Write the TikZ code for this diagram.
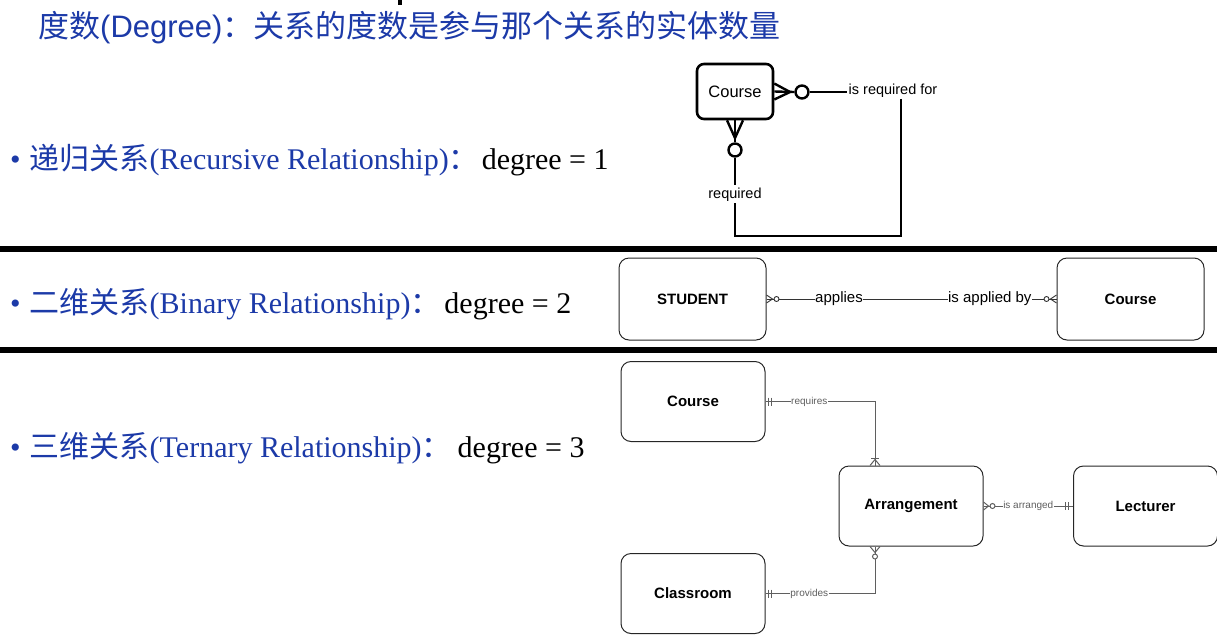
\documentclass[tikz,border=0pt]{standalone}
\usepackage{fontspec}
\setmainfont{Liberation Serif}
\newfontfamily\cjkfont{Noto Sans CJK SC}
\newfontfamily\erfont{Liberation Sans}
\definecolor{slideblue}{RGB}{28,58,168}
\definecolor{linkgray}{RGB}{95,95,95}
\tikzset{
  rowtext/.style={anchor=base west, inner sep=0pt, text=slideblue, font=\fontsize{30}{34}\selectfont},
  recbox/.style={draw, line width=2.6pt, rounded corners=7pt, minimum width=76pt, minimum height=55pt, font=\erfont\fontsize{16.5}{19}\selectfont},
  reclink/.style={line width=2.4pt},
  reclabel/.style={inner sep=1pt, font=\erfont\fontsize{14.5}{17}\selectfont},
  optcircle/.style={circle, draw, fill=white, inner sep=0pt},
  erbox/.style={draw=black!85, line width=1pt, rounded corners=10pt, minimum width=147pt, minimum height=82pt, font=\erfont\bfseries\fontsize{15}{18}\selectfont},
  binlink/.style={draw=black!80, line width=0.9pt},
  binlabel/.style={fill=white, inner sep=0.5pt, font=\erfont\fontsize{15}{18}\selectfont},
  terbox/.style={erbox, minimum width=144pt, minimum height=80pt},
  terlink/.style={draw=linkgray, line width=1pt},
  terlabel/.style={fill=white, inner sep=0.5pt, text=linkgray, font=\erfont\fontsize{10}{12}\selectfont},
  divider/.style={line width=6pt}
}
\begin{document}
\begin{tikzpicture}[x=1pt, y=-1pt]
  \useasboundingbox (0,0) rectangle (1217,638);
  \fill (398,0) rectangle (402,5);
  \node[anchor=base west, inner sep=0pt, text=slideblue, font=\cjkfont\fontsize{31}{36}\selectfont] (title) at (38,37)
    {度数{\erfont (Degree)}：关系的度数是参与那个关系的实体数量};

  \node[rowtext] (recursive) at (10,169)
    {•\hspace{9pt}{\cjkfont 递归关系}(Recursive Relationship){\cjkfont ：}\hspace{3pt}\textcolor{black}{degree = 1}};
  \node[rowtext] (binary) at (10,313)
    {•\hspace{9pt}{\cjkfont 二维关系}(Binary Relationship){\cjkfont ：}\hspace{4pt}\textcolor{black}{degree = 2}};
  \node[rowtext] (ternary) at (10,457)
    {•\hspace{9pt}{\cjkfont 三维关系}(Ternary Relationship){\cjkfont ：}\hspace{6pt}\textcolor{black}{degree = 3}};

  \draw[divider] (0,249) -- (1217,249);
  \draw[divider] (0,350) -- (1217,350);

  \node[recbox] (course1) at (735,91.5) {Course};
  \node[optcircle, line width=2.4pt, minimum size=13pt] (opt1) at (802,92) {};
  \node[optcircle, line width=2.4pt, minimum size=13pt] (opt2) at (735,150) {};
  \node[reclabel] (reqfor) at (893,91) {is required for};
  \node[reclabel] (reqd) at (735,195) {required};
  \draw[reclink] ([yshift=8]course1.east) -- (790,92) -- ([yshift=-8]course1.east);
  \draw[reclink] (course1.east) -- (opt1.west);
  \draw[reclink] (opt1.east) -- (opt1.east -| reqfor.west);
  \draw[reclink] ([xshift=-8]course1.south) -- (735,138) -- ([xshift=8]course1.south);
  \draw[reclink] (course1.south) -- (opt2.north);
  \draw[reclink] (opt2.south) -- ([yshift=2]reqd.north);
  \draw[reclink] ([xshift=8]reqfor.south) -- ++(0,137) -| (reqd.south);

  \node[erbox] (student) at (692.5,299) {STUDENT};
  \node[erbox] (course2) at (1130.5,299) {Course};
  \draw[binlink] (student.east) -- (course2.west)
    node[binlabel, pos=0.25] {applies}
    node[binlabel, pos=0.77] {is applied by};
  \draw[binlink] ([yshift=4]student.east) -- ([xshift=6]student.east) -- ([yshift=-4]student.east);
  \draw[binlink, fill=white] ([xshift=10]student.east) circle (2.5);
  \draw[binlink] ([yshift=4]course2.west) -- ([xshift=-6]course2.west) -- ([yshift=-4]course2.west);
  \draw[binlink, fill=white] ([xshift=-10]course2.west) circle (2.5);

  \node[terbox] (course3) at (693,401.5) {Course};
  \node[terbox] (classroom) at (693,593.5) {Classroom};
  \node[terbox] (arrangement) at (911,506) {Arrangement};
  \node[terbox] (lecturer) at (1145.5,506) {Lecturer};
  \draw[terlink] (course3.east) -| ([xshift=-36]arrangement.north)
    node[terlabel, pos=0.2] {requires};
  \draw[terlink] ([xshift=3,yshift=4]course3.east) -- ([xshift=3,yshift=-4]course3.east);
  \draw[terlink] ([xshift=6,yshift=4]course3.east) -- ([xshift=6,yshift=-4]course3.east);
  \draw[terlink] ([xshift=-41]arrangement.north) -- ([xshift=-36,yshift=6]arrangement.north) -- ([xshift=-31]arrangement.north);
  \draw[terlink] ([xshift=-40,yshift=7]arrangement.north) -- ([xshift=-32,yshift=7]arrangement.north);
  \draw[terlink] (classroom.east) -| ([xshift=-36]arrangement.south)
    node[terlabel, pos=0.2] {provides};
  \draw[terlink] ([xshift=3,yshift=4]classroom.east) -- ([xshift=3,yshift=-4]classroom.east);
  \draw[terlink] ([xshift=6,yshift=4]classroom.east) -- ([xshift=6,yshift=-4]classroom.east);
  \draw[terlink] ([xshift=-41]arrangement.south) -- ([xshift=-36,yshift=-6]arrangement.south) -- ([xshift=-31]arrangement.south);
  \draw[terlink, fill=white] ([xshift=-36,yshift=-10]arrangement.south) circle (2.5);
  \draw[terlink] (arrangement.east) -- (lecturer.west)
    node[terlabel, pos=0.5] {is arranged};
  \draw[terlink] ([yshift=4]arrangement.east) -- ([xshift=5]arrangement.east) -- ([yshift=-4]arrangement.east);
  \draw[terlink, fill=white] ([xshift=9]arrangement.east) circle (2.5);
  \draw[terlink] ([xshift=-5,yshift=4]lecturer.west) -- ([xshift=-5,yshift=-4]lecturer.west);
  \draw[terlink] ([xshift=-8,yshift=4]lecturer.west) -- ([xshift=-8,yshift=-4]lecturer.west);
\end{tikzpicture}
\end{document}
